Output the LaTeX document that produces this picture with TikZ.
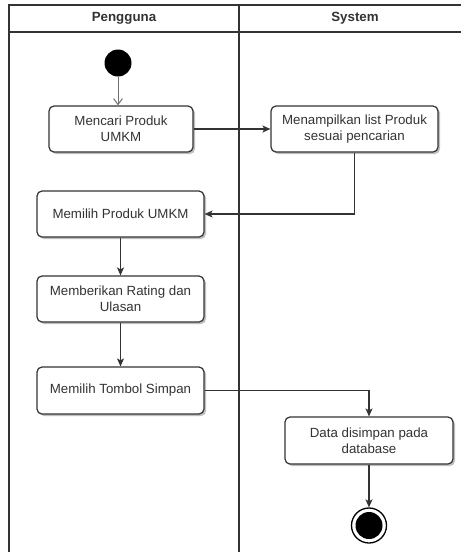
\documentclass[tikz,border=0pt]{standalone}
\usepackage{fontspec}
\setmainfont{Liberation Sans}
\usetikzlibrary{arrows.meta,shadows}
\definecolor{ln}{HTML}{333333}
\definecolor{tx}{HTML}{333333}
\tikzset{
  act/.style={draw=ln, line width=1.2pt, rounded corners=5pt, fill=white,
    minimum width=167pt, minimum height=46pt, align=center, text=tx,
    font=\fontsize{13.3pt}{16pt}\selectfont, inner sep=2pt,
    drop shadow={shadow xshift=2pt, shadow yshift=-2pt, opacity=0.25, fill=black}},
  flow/.style={draw=ln, line width=1.1pt, -{Stealth[length=8pt,width=7pt,inset=2pt]}},
  openflow/.style={draw=ln!70, line width=1pt, -{Straight Barb[length=6pt,width=9pt]}},
  lane/.style={draw=ln, line width=1.5pt},
  head/.style={font=\fontsize{13.3pt}{16pt}\selectfont\bfseries, text=tx}
}
\begin{document}
\begin{tikzpicture}[x=1pt,y=-1pt]
\useasboundingbox (0,0) rectangle (461,552);
\fill[white] (0,0) rectangle (461,552);
% lanes
\draw[lane] (9,552) -- (9,5) -- (461,5);
\draw[lane] (9,32) -- (461,32);
\draw[lane] (239,5) -- (239,552);
\node[head] (h1) at (124,18.5) {Pengguna};
\node[head] (h2) at (355,18.5) {System};
% nodes
\node[circle, fill=black, minimum size=27pt, inner sep=0pt] (start) at (118,63) {};
\node[act, minimum width=144pt] (mencari) at (121,129) {Mencari Produk\\UMKM};
\node[act] (tampil) at (354.5,129) {Menampilkan list Produk\\sesuai pencarian};
\node[act] (pilih) at (120.5,214) {Memilih Produk UMKM};
\node[act] (rating) at (120.5,299) {Memberikan Rating dan\\Ulasan};
\node[act, minimum height=47pt] (tombol) at (120.5,390.5) {Memilih Tombol Simpan};
\node[act, minimum width=168pt, minimum height=47pt] (data) at (369,440.5) {Data disimpan pada\\database};
\node[circle, draw=black, line width=1.3pt, fill=white, minimum size=35pt, inner sep=0pt] (end) at (369,525.5) {};
\node[circle, fill=black, minimum size=27pt, inner sep=0pt] (endin) at (369,525.5) {};
% flows
\draw[openflow] (start.south) -- (start.south |- mencari.north);
\draw[flow] (mencari.east) -- (tampil.west);
\draw[flow] (tampil.south) |- (pilih.east);
\draw[flow] (pilih.south) -- (rating.north);
\draw[flow] (rating.south) -- (tombol.north);
\draw[flow] (tombol.east) -| (data.north);
\draw[flow] (data.south) -- (end.north);
\end{tikzpicture}
\end{document}
